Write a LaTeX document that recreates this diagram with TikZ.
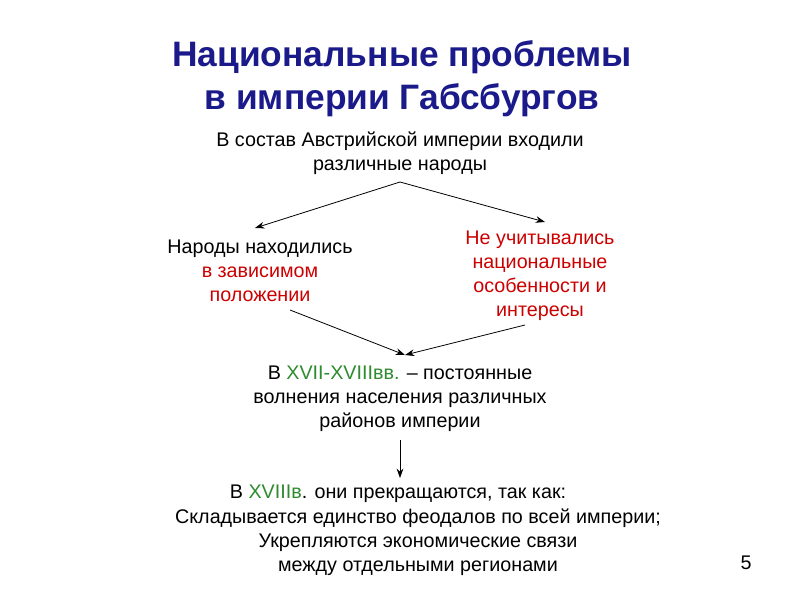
\documentclass[tikz,border=0pt]{standalone}
\usepackage{fontspec}
\setmainfont{Liberation Sans}
\usetikzlibrary{arrows.meta}
\definecolor{tblue}{HTML}{1A1A8A}
\definecolor{tred}{HTML}{CC0000}
\definecolor{tgreen}{HTML}{2E8B2E}
\begin{document}
\begin{tikzpicture}[x=0.75pt,y=-0.75pt,
  txt/.style={font=\fontsize{14.8}{18}\selectfont,align=center,inner sep=0pt},
  ttl/.style={font=\fontsize{26.5}{32.5}\selectfont\bfseries,text=tblue,align=center,inner sep=0pt},
  arr/.style={-{Stealth[length=7pt,width=5pt]},line width=0.6pt}]
\fill[white] (0,0) rectangle (800,600);
\node[ttl] (title) at (402,79) {Национальные проблемы\\в империи Габсбургов};
\node[txt] (top) at (400,153) {В состав Австрийской империи входили\\различные народы};
\node[txt] (left) at (260,271) {Народы находились\\\textcolor{tred}{в зависимом}\\\textcolor{tred}{положении}};
\node[txt,text=tred] (right) at (540,276) {Не учитывались\\национальные\\особенности и\\интересы};
\node[txt] (mid) at (400,399) {В \textcolor{tgreen}{XVII-XVIIIвв.} – постоянные\\волнения населения различных\\районов империи};
\node[txt] (b1) at (398,494) {В \textcolor{tgreen}{XVIIIв}. они прекращаются, так как:};
\node[txt] (b2) at (418,542) {Складывается единство феодалов по всей империи;\\Укрепляются экономические связи\\между отдельными регионами};
\node[txt] (num) at (746,563) {5};
\coordinate (split) at (400,182);
\coordinate (join) at (405,355);
\draw[arr] (split) -- (255,228);
\draw[arr] (split) -- (545,222);
\draw[arr] (290,310) -- (join);
\draw[arr] (525,325) -- (join);
\draw[arr] (400,440) -- (400,478);
\end{tikzpicture}
\end{document}
